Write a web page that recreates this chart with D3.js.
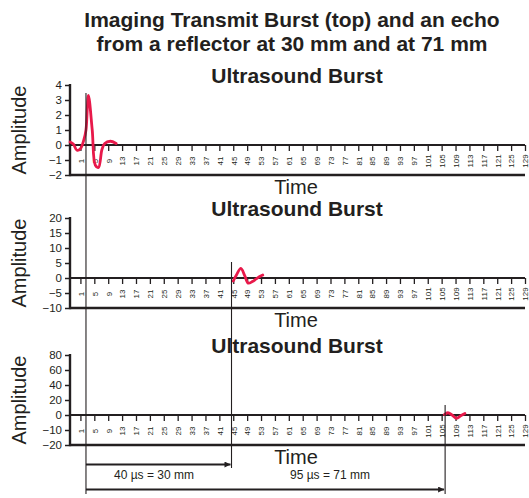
<!DOCTYPE html>
<html><head><meta charset="utf-8">
<script src="https://cdn.jsdelivr.net/npm/d3@7"></script>
<style>
body{margin:0;background:#fff}
svg text{font-family:"Liberation Sans",Arial,Helvetica,sans-serif;fill:#231f20}
</style>
</head><body>
<svg id="chart" width="529" height="498"></svg>
<script>
// Sample index (time) tick labels shared by all three traces
const timeTicks = d3.range(1, 130, 4);

// Transmit burst
const burstTime = [-2, -1, 0, 1, 2, 2.6, 3.3, 4.4, 5.3, 6.2, 7.2, 8.0, 9.6, 11.3];
const burstAmp  = [0.2, 0.05, -0.35, -0.25, 0.35, 1.0, 3.3, 1.0, -1.35, -1.5, -0.3, 0.1, 0.25, 0.1];

// Echo from the reflector at 30 mm
const echo30Time = [45, 46, 47.2, 48.3, 49.3, 50.5, 51.5, 52.5, 53.5];
const echo30Amp  = [-1, 1.2, 3.2, 0.8, -1.7, -1.2, -0.4, 0.4, 1.0];

// Echo from the reflector at 71 mm
const echo71Time = [105.8, 106.8, 108, 109.3, 110.5, 111.7];
const echo71Amp  = [0.5, 3, 0, -2.2, -0.5, 2];

// Amplitude axis labels for each panel
const topAmpTicks = [-2, -1, 0, 1, 2, 3, 4];
const midAmpTicks = [-10, -5, 0, 5, 10, 15, 20];
const lowAmpTicks = [-20, -10, 0, 20, 40, 60, 80];

// Times of the burst and the two echoes, and the spans between them
const markerTimes = [2.6, 44.5, 106];
const spanLabels = ["40 µs = 30 mm", "95 µs = 71 mm"];

const titleLines = ["Imaging Transmit Burst (top) and an echo", "from a reflector at 30 mm and at 71 mm"];
const panelTitle = "Ultrasound Burst";

const svg = d3.select("#chart");
const ink = "#231f20";
const red = "#e8194a";

const x = d3.scaleLinear().domain([-2, 129]).range([70, 525]);
const xLeft = 70, xRight = 525;

const panels = [
  {ticks: topAmpTicks, time: burstTime, amp: burstAmp, top: 85,
   y: d3.scaleLinear().domain([-2, 4]).range([175, 85])},
  {ticks: midAmpTicks, time: echo30Time, amp: echo30Amp, top: 218,
   y: d3.scaleLinear().domain([-10, 20]).range([308, 218])},
  {ticks: lowAmpTicks, time: echo71Time, amp: echo71Amp, top: 355,
   y: d3.scaleLinear().domain([-20, 0, 80]).range([445, 415, 355])}
];

// Main title
svg.append("g").selectAll("text").data(titleLines).join("text")
  .attr("x", 292).attr("y", (d, i) => 27 + i * 24)
  .attr("text-anchor", "middle").attr("font-weight", "bold").attr("font-size", 21)
  .text(d => d);

panels.forEach(p => {
  const g = svg.append("g");
  const bottom = p.y.range()[0];
  const zero = p.y(0);

  g.append("text").attr("x", 297).attr("y", p.top - 2)
    .attr("text-anchor", "middle").attr("font-weight", "bold").attr("font-size", 21)
    .text(panelTitle);

  // amplitude axis
  const ya = g.append("g").attr("transform", `translate(${xLeft},0)`)
    .call(d3.axisLeft(p.y).tickValues(p.ticks).tickSize(5).tickPadding(3)
      .tickFormat(d => d < 0 ? "\u2212" + Math.abs(d) : d));
  ya.select(".domain").remove();
  ya.selectAll(".tick line").attr("stroke", ink).attr("stroke-width", 1.5);
  ya.selectAll(".tick text").attr("font-size", 11.5).style("font-family", "'Liberation Sans',Arial,sans-serif").attr("fill", ink);
  g.append("line").attr("x1", xLeft).attr("x2", xLeft)
    .attr("y1", p.top - 1).attr("y2", bottom + 1.2)
    .attr("stroke", ink).attr("stroke-width", 2.4);

  // bottom frame
  g.append("line").attr("x1", xLeft).attr("x2", xRight)
    .attr("y1", bottom).attr("y2", bottom)
    .attr("stroke", ink).attr("stroke-width", 2.4);

  // time axis on the zero line
  const xa = g.append("g").attr("transform", `translate(0,${zero})`)
    .call(d3.axisBottom(x).tickValues(timeTicks).tickSize(6).tickPadding(0));
  xa.select(".domain").remove();
  xa.selectAll(".tick line").attr("stroke", ink).attr("stroke-width", 1.3);
  xa.selectAll(".tick text")
    .attr("transform", "rotate(-90)")
    .attr("x", -16).attr("y", 0).attr("dy", "0.35em")
    .attr("text-anchor", "middle").attr("font-size", 8)
    .style("font-family", "'Liberation Sans',Arial,sans-serif").attr("fill", ink);
  g.append("line").attr("x1", xLeft).attr("x2", xRight)
    .attr("y1", zero).attr("y2", zero)
    .attr("stroke", ink).attr("stroke-width", 2.2);

  // axis titles
  g.append("text")
    .attr("transform", `translate(26,${(p.top + bottom) / 2}) rotate(-90)`)
    .attr("text-anchor", "middle").attr("font-size", 20).text("Amplitude");
  g.append("text").attr("x", 296).attr("y", bottom + 19)
    .attr("text-anchor", "middle").attr("font-size", 20).text("Time");

  // trace
  const pts = p.time.map((t, i) => [t, p.amp[i]]);
  g.append("path").datum(pts)
    .attr("d", d3.line().x(d => x(d[0])).y(d => p.y(d[1])).curve(d3.curveCatmullRom.alpha(0.5)))
    .attr("fill", "none").attr("stroke", red).attr("stroke-width", 2.8)
    .attr("stroke-linejoin", "round").attr("stroke-linecap", "round");
});

// marker lines at the burst and each echo
const markerSpans = [[93, 494], [262, 468], [405, 494]];
svg.append("g").selectAll("line").data(markerTimes).join("line")
  .attr("x1", d => x(d)).attr("x2", d => x(d))
  .attr("y1", (d, i) => markerSpans[i][0]).attr("y2", (d, i) => markerSpans[i][1])
  .attr("stroke", ink).attr("stroke-width", 1.1);

// span arrows
svg.append("defs").append("marker").attr("id", "head")
  .attr("viewBox", "0 0 10 10").attr("refX", 10).attr("refY", 5)
  .attr("markerWidth", 8).attr("markerHeight", 6).attr("markerUnits", "userSpaceOnUse")
  .attr("orient", "auto")
  .append("path").attr("d", "M0,0L10,5L0,10Z").attr("fill", ink);

const arrowY = [464.5, 489.5];
const labelX = [154, 330];
const ag = svg.append("g");
spanLabels.forEach((lab, i) => {
  ag.append("line").attr("x1", x(markerTimes[0])).attr("x2", x(markerTimes[i + 1]) - 1)
    .attr("y1", arrowY[i]).attr("y2", arrowY[i])
    .attr("stroke", ink).attr("stroke-width", 1.8).attr("marker-end", "url(#head)");
  ag.append("text").attr("x", labelX[i]).attr("y", 479)
    .attr("text-anchor", "middle").attr("font-size", 12).text(lab);
});
</script>
</body></html>
